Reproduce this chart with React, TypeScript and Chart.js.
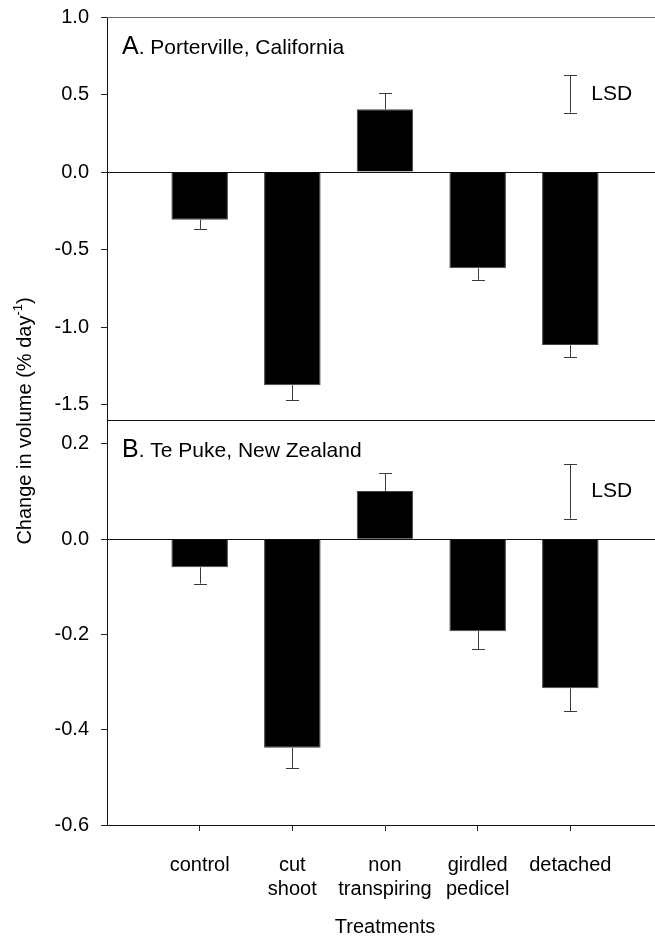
import React, { useEffect, useRef } from "react";
import { Chart, registerables } from "chart.js";

Chart.register(...registerables);

const FONT = "'Liberation Sans', Arial, Helvetica, sans-serif";

const categories: (string | string[])[] = [
  "control",
  ["cut", "shoot"],
  ["non", "transpiring"],
  ["girdled", "pedicel"],
  "detached",
];
const positions = [1, 2, 3, 4, 5];

const porterville = [-0.307, -1.375, 0.405, -0.621, -1.116];
const portervilleErr = [0.059, 0.095, 0.103, 0.073, 0.077];

const tePuke = [-0.059, -0.438, 0.101, -0.193, -0.313];
const tePukeErr = [0.034, 0.042, 0.038, 0.038, 0.048];

const lsdA = [0.383, 0.623];
const lsdB = [0.043, 0.157];

const ticksA = [-1.5, -1.0, -0.5, 0.0, 0.5, 1.0];
const ticksB = [-0.6, -0.4, -0.2, 0.0, 0.2];

const titleA = ["A", ". Porterville, California"];
const titleB = ["B", ". Te Puke, New Zealand"];
const yTitle = ["Change in volume (% day", "-1", ")"];
const xTitle = "Treatments";

function hLine(ctx: CanvasRenderingContext2D, x0: number, x1: number, y: number, color: string) {
  const yy = Math.round(y) + 0.5;
  ctx.strokeStyle = color;
  ctx.lineWidth = 1;
  ctx.beginPath();
  ctx.moveTo(x0, yy);
  ctx.lineTo(x1, yy);
  ctx.stroke();
}

function vSeg(ctx: CanvasRenderingContext2D, x: number, y0: number, y1: number, cap: number, capBoth: boolean, color: string) {
  const xx = Math.round(x) + 0.5;
  ctx.strokeStyle = color;
  ctx.lineWidth = 1;
  ctx.beginPath();
  ctx.moveTo(xx, y0);
  ctx.lineTo(xx, y1);
  const yy1 = Math.round(y1) + 0.5;
  ctx.moveTo(xx - cap, yy1);
  ctx.lineTo(xx + cap, yy1);
  if (capBoth) {
    const yy0 = Math.round(y0) + 0.5;
    ctx.moveTo(xx - cap, yy0);
    ctx.lineTo(xx + cap, yy0);
  }
  ctx.stroke();
}

const overlay = {
  id: "overlay",
  beforeDatasetsDraw(chart: any) {
    const { ctx, chartArea, scales } = chart;
    const yA = scales.yA;
    const yB = scales.yB;
    ctx.save();
    const L = chartArea.left;
    const R = chartArea.right;
    hLine(ctx, L, R, yA.getPixelForValue(1.0), "#6a6a6a");
    hLine(ctx, L, R, yA.getPixelForValue(0), "#111");
    hLine(ctx, L, R, yA.bottom, "#111");
    hLine(ctx, L, R, yB.getPixelForValue(0), "#111");
    ctx.restore();
  },
  afterDatasetsDraw(chart: any) {
    const { ctx, scales, chartArea } = chart;
    const x = scales.x;
    const yA = scales.yA;
    const yB = scales.yB;
    ctx.save();
    const panels = [
      { s: yA, v: porterville, e: portervilleErr, lsd: lsdA, t: titleA },
      { s: yB, v: tePuke, e: tePukeErr, lsd: lsdB, t: titleB },
    ];
    for (const p of panels) {
      for (let i = 0; i < positions.length; i++) {
        const xp = x.getPixelForValue(positions[i]);
        const v = p.v[i];
        const end = v + Math.sign(v) * p.e[i];
        vSeg(ctx, xp, p.s.getPixelForValue(v), p.s.getPixelForValue(end), 6.5, false, "#3a3a3a");
      }
      // LSD bar above the last category
      const lx = x.getPixelForValue(positions[positions.length - 1]);
      const l0 = p.s.getPixelForValue(p.lsd[0]);
      const l1 = p.s.getPixelForValue(p.lsd[1]);
      vSeg(ctx, lx, l0, l1, 6.5, true, "#3a3a3a");
      ctx.fillStyle = "#000";
      ctx.font = `21px ${FONT}`;
      ctx.textAlign = "left";
      ctx.textBaseline = "middle";
      ctx.fillText("LSD", lx + 21, (l0 + l1) / 2);
      // panel title
      const tx = chartArea.left + 15;
      const ty = p.s.top + 36.5;
      ctx.textBaseline = "alphabetic";
      ctx.font = `25px ${FONT}`;
      ctx.fillText(p.t[0], tx, ty);
      const w = ctx.measureText(p.t[0]).width;
      ctx.font = `21px ${FONT}`;
      ctx.fillText(p.t[1], tx + w, ty);
    }
    // y axis title, rotated, spanning both panels
    const cy = (chartArea.top + chartArea.bottom) / 2;
    ctx.translate(25, cy);
    ctx.rotate(-Math.PI / 2);
    ctx.textBaseline = "middle";
    ctx.textAlign = "left";
    ctx.font = `20px ${FONT}`;
    const w0 = ctx.measureText(yTitle[0]).width;
    const w2 = ctx.measureText(yTitle[2]).width;
    ctx.font = `13px ${FONT}`;
    const w1 = ctx.measureText(yTitle[1]).width;
    const total = w0 + w1 + w2;
    let cx = -total / 2;
    ctx.font = `20px ${FONT}`;
    ctx.fillText(yTitle[0], cx, 0);
    cx += w0;
    ctx.font = `13px ${FONT}`;
    ctx.fillText(yTitle[1], cx, -7);
    cx += w1;
    ctx.font = `20px ${FONT}`;
    ctx.fillText(yTitle[2], cx, 0);
    ctx.restore();
  },
};

export default function App() {
  const ref = useRef<HTMLCanvasElement | null>(null);
  useEffect(() => {
    if (!ref.current) return;
    const yCommon = (ticks: number[], min: number, max: number, weight: number) => ({
      type: "linear" as const,
      position: "left" as const,
      stack: "panels",
      stackWeight: weight,
      min,
      max,
      afterBuildTicks: (s: any) => {
        s.ticks = ticks.map((v) => ({ value: v }));
      },
      afterFit: (s: any) => {
        s.width = 107;
        s.paddingTop = 0;
        s.paddingBottom = 0;
      },
      ticks: {
        callback: (v: any) => Number(v).toFixed(1),
        font: { family: FONT, size: 20 },
        color: "#000",
        padding: 12,
      },
      grid: {
        display: true,
        drawOnChartArea: false,
        drawTicks: true,
        tickLength: 6,
        color: "#222",
      },
      border: { display: true, color: "#111" },
    });
    const chart = new Chart(ref.current, {
      type: "bar",
      data: {
        datasets: [
          {
            label: "Porterville, California",
            data: positions.map((x, i) => ({ x, y: porterville[i] })),
            yAxisID: "yA",
            xAxisID: "x",
            backgroundColor: "#000",
            borderColor: "#444",
            borderWidth: 1,
            barPercentage: 0.61,
            categoryPercentage: 1,
            grouped: false,
          },
          {
            label: "Te Puke, New Zealand",
            data: positions.map((x, i) => ({ x, y: tePuke[i] })),
            yAxisID: "yB",
            xAxisID: "x",
            backgroundColor: "#000",
            borderColor: "#444",
            borderWidth: 1,
            barPercentage: 0.61,
            categoryPercentage: 1,
            grouped: false,
          },
        ],
      } as any,
      options: {
        animation: false,
        responsive: true,
        maintainAspectRatio: false,
        layout: { padding: { top: 17, left: 0, right: 0, bottom: 0 } },
        plugins: {
          legend: { display: false },
          tooltip: { enabled: false },
        },
        scales: {
          x: {
            type: "linear",
            position: "bottom",
            min: 0,
            max: 6,
            offset: false,
            afterBuildTicks: (s: any) => {
              s.ticks = positions.map((v) => ({ value: v }));
            },
            afterFit: (s: any) => {
              s.height = 114;
              s.paddingLeft = 0;
              s.paddingRight = 0;
            },
            ticks: {
              callback: (_v: any, i: number) => categories[i],
              font: { family: FONT, size: 20, lineHeight: 1.2 },
              color: "#000",
              padding: 22,
              maxRotation: 0,
              autoSkip: false,
            },
            grid: {
              display: true,
              offset: false,
              drawOnChartArea: false,
              drawTicks: true,
              tickLength: 6,
              color: "#222",
            },
            border: { display: true, color: "#111" },
            title: {
              display: true,
              text: xTitle,
              font: { family: FONT, size: 20, lineHeight: 1.2 },
              color: "#000",
              padding: { top: 0, bottom: 0 },
            },
          },
          yB: yCommon(ticksB, -0.6, 0.25, 405),
          yA: yCommon(ticksA, -1.6, 1.0, 403.3),
        } as any,
      },
      plugins: [overlay],
    });
    return () => chart.destroy();
  }, []);

  return (
    <div
      style={{
        position: "fixed",
        left: 0,
        top: 0,
        width: 655,
        height: 939,
        overflow: "hidden",
        background: "#fff",
      }}
    >
      <div style={{ width: 663, height: 939, position: "relative" }}>
        <canvas ref={ref} />
      </div>
    </div>
  );
}
